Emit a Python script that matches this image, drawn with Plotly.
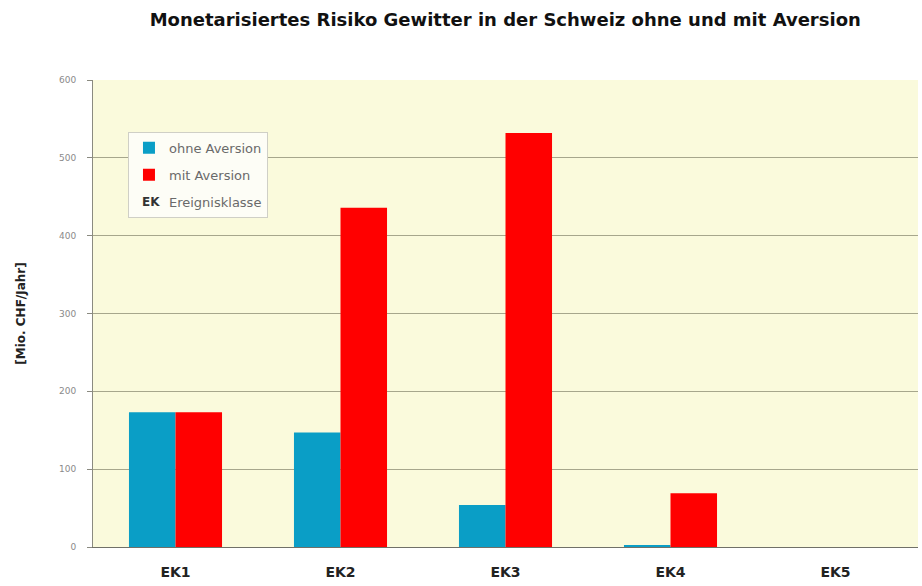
import plotly.graph_objects as go

categories = ["EK1", "EK2", "EK3", "EK4", "EK5"]
ohne_aversion = [173, 147, 54, 2, 0]
mit_aversion = [173, 436, 532, 69, 0]
y_ticks = [0, 100, 200, 300, 400, 500, 600]

title = "Monetarisiertes Risiko Gewitter in der Schweiz ohne und mit Aversion"
y_title = "[Mio. CHF/Jahr]"

fig = go.Figure()
fig.add_trace(go.Bar(x=categories, y=ohne_aversion, name="ohne Aversion",
                     marker=dict(color="#0a9ec6", line=dict(width=0)),
                     legendgroup="a"))
fig.add_trace(go.Bar(x=categories, y=mit_aversion, name="mit Aversion",
                     marker=dict(color="#ff0000", line=dict(width=0)),
                     legendgroup="b"))
fig.add_trace(go.Scatter(x=[None], y=[None], mode="markers", name="Ereignisklasse",
                         marker=dict(color="rgba(0,0,0,0)", size=1),
                         legendgroup="c", hoverinfo="skip"))

fig.update_layout(
    width=922, height=586,
    margin=dict(l=93, r=4, t=80, b=39),
    paper_bgcolor="white",
    plot_bgcolor="#fafadc",
    font=dict(family="DejaVu Sans, sans-serif", color="#333333"),
    title=dict(text="<b>" + title + "</b>", x=0.548, xanchor="center", y=0.967, yanchor="middle",
               font=dict(size=18, color="#111111", family="DejaVu Sans")),
    barmode="group",
    bargap=0.436,
    bargroupgap=0,
    showlegend=True,
    legend=dict(x=0.0424, y=0.889, xanchor="left", yanchor="top",
                bgcolor="#fdfdf6", bordercolor="#cfcfc6", borderwidth=1,
                font=dict(size=13, color="#6a6a6a", family="DejaVu Sans"),
                traceorder="grouped", tracegroupgap=7, itemwidth=30),
    xaxis=dict(showgrid=False, showline=True, linecolor="#707068", linewidth=1,
               tickfont=dict(size=14, color="#222222", family="DejaVu Sans"),
               tickprefix="<b>", ticksuffix="</b>",
               ticks="", ticklabelstandoff=12),
    yaxis=dict(range=[0, 600], tickvals=y_ticks, showgrid=True, gridcolor="#a6a68c",
               gridwidth=1, showline=True, linecolor="#8a8a80", linewidth=1,
               ticks="outside", ticklen=5, tickcolor="#8a8a80", ticklabelstandoff=9,
               tickfont=dict(size=9, color="#8a8a8a", family="DejaVu Sans"), zeroline=False,
               title=dict(text="<b>" + y_title + "</b>",
                          font=dict(size=12, color="#222222", family="DejaVu Sans"),
                          standoff=30)),
)

fig.add_annotation(x=0.0703, y=0.739, xref="paper", yref="paper", text="<b>EK</b>",
                   xanchor="center", yanchor="middle",
                   showarrow=False, font=dict(size=12, color="#333333", family="DejaVu Sans"))

fig.write_html("out.html", config={"displayModeBar": False},
               post_script="document.body.style.margin='0';document.body.style.overflow='hidden';")
